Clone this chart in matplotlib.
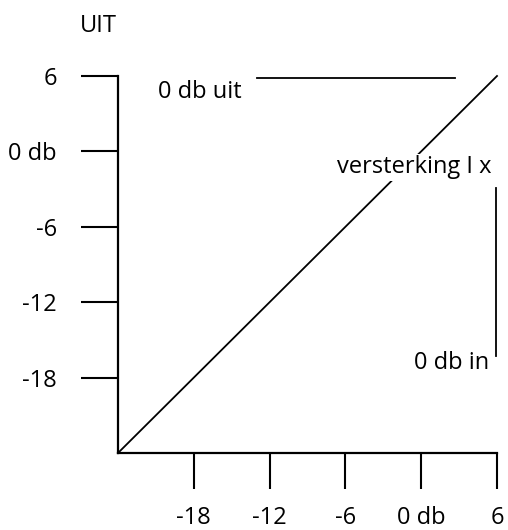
import matplotlib.pyplot as plt

plt.rcParams['font.family'] = ['Open Sans', 'DejaVu Sans']

# gain line 1x: in (db) -> out (db)
gain_in = [-24, 6]
gain_out = [-24, 6]

# reference markers
uit_x = [-13.0, 2.7]
uit_y = [5.85, 5.85]
in_x = [5.9, 5.9]
in_y = [-2.9, -16.3]

x_ticks = [-18, -12, -6, 0, 6]
x_labels = ["-18", "-12", "-6", "0 db", "6"]
y_ticks = [6, 0, -6, -12, -18]
y_labels = ["6", "0 db", "-6", "-12", "-18"]

fig = plt.figure(figsize=(5.08, 5.30), dpi=100)
ax = fig.add_axes([118 / 508, 1 - 453 / 530, (497 - 118) / 508, (453 - 76) / 530])
ax.set_xlim(-24, 6)
ax.set_ylim(-24, 6)

for side in ["top", "right"]:
    ax.spines[side].set_visible(False)
for side in ["left", "bottom"]:
    ax.spines[side].set_linewidth(1.6)

ax.plot(gain_in, gain_out, color="black", lw=1.3, clip_on=False, zorder=2)
ax.plot(uit_x, uit_y, color="black", lw=1.3, clip_on=False)
ax.plot(in_x, in_y, color="black", lw=1.3, clip_on=False)

fs = 17
ax.set_xticks(x_ticks)
ax.set_xticklabels(x_labels)
ax.set_yticks(y_ticks)
ax.set_yticklabels(y_labels)
ax.tick_params(axis="x", direction="out", length=26, width=1.5, pad=12, labelsize=fs)
ax.tick_params(axis="y", direction="out", length=27, width=1.5, pad=17, labelsize=fs)

ax.text(-20.8, 4.75, "0 db uit", fontsize=fs, va="center", ha="left")
ax.text(5.6, -1.25, "versterking I x", fontsize=fs, va="center", ha="right",
        bbox=dict(facecolor="white", edgecolor="none", pad=1), zorder=3)
ax.text(5.35, -16.8, "0 db in", fontsize=fs, va="center", ha="right")
fig.text(98 / 508, 1 - 26 / 530, "UIT", fontsize=fs, ha="center", va="center")

fig.savefig("out.png", dpi=100)
